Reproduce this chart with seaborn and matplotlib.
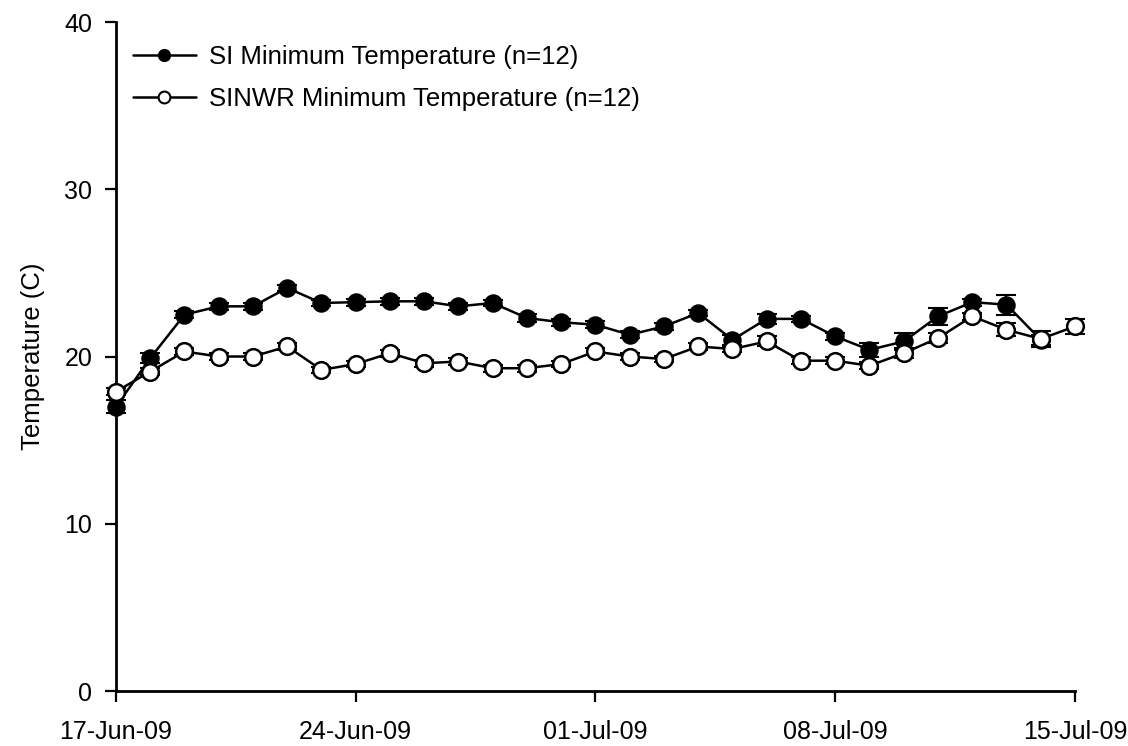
import matplotlib
matplotlib.use("Agg")
import matplotlib.pyplot as plt
import matplotlib.dates as mdates
import numpy as np
import pandas as pd
import seaborn as sns

# Daily minimum temperatures, 17-Jun-09 onwards
dates = pd.date_range("2009-06-17", periods=29, freq="D")

si_min = [17.0, 19.9, 22.5, 23.0, 23.0, 24.1, 23.2, 23.25, 23.3, 23.3,
          23.0, 23.2, 22.3, 22.05, 21.9, 21.3, 21.8, 22.6, 21.0, 22.25,
          22.25, 21.2, 20.4, 20.9, 22.4, 23.25, 23.1, 21.0]
si_err = [0.4, 0.3, 0.2, 0.2, 0.2, 0.2, 0.2, 0.2, 0.2, 0.2,
          0.2, 0.2, 0.25, 0.2, 0.2, 0.2, 0.2, 0.2, 0.3, 0.3,
          0.2, 0.2, 0.4, 0.5, 0.5, 0.2, 0.6, 0.3]

sinwr_min = [17.9, 19.1, 20.3, 20.0, 20.0, 20.6, 19.2, 19.55, 20.2, 19.6,
             19.7, 19.3, 19.3, 19.55, 20.3, 20.0, 19.85, 20.6, 20.45, 20.9,
             19.75, 19.75, 19.45, 20.2, 21.1, 22.4, 21.6, 21.05, 21.8]
sinwr_err = [0.2, 0.2, 0.2, 0.2, 0.2, 0.2, 0.2, 0.2, 0.2, 0.2,
             0.2, 0.2, 0.2, 0.2, 0.2, 0.2, 0.2, 0.2, 0.2, 0.3,
             0.2, 0.2, 0.2, 0.3, 0.3, 0.2, 0.4, 0.5, 0.45]

y_ticks = [0, 10, 20, 30, 40]
x_ticks = pd.to_datetime(["2009-06-17", "2009-06-24", "2009-07-01",
                          "2009-07-08", "2009-07-15"])

sns.set_style("ticks")
plt.rcParams["font.family"] = ["Liberation Sans", "DejaVu Sans"]
plt.rcParams["text.color"] = "black"
plt.rcParams["axes.labelcolor"] = "black"

fig = plt.figure(figsize=(11.28, 7.46), dpi=100)
ax = fig.add_axes([0.1028, 0.0737, 0.8502, 0.8968])

si_df = pd.DataFrame({"date": dates[:len(si_min)], "temp": si_min})
sinwr_df = pd.DataFrame({"date": dates[:len(sinwr_min)], "temp": sinwr_min})

# error bars first, then the lines with markers on top
ax.errorbar(si_df["date"], si_df["temp"], yerr=si_err, fmt="none",
            ecolor="black", elinewidth=1.5, capsize=7, capthick=1.5,
            clip_on=False, zorder=2)
sns.lineplot(data=si_df, x="date", y="temp", ax=ax, color="black",
             linewidth=1.8, marker="o", markersize=12,
             markerfacecolor="black", markeredgecolor="black",
             markeredgewidth=1.3, clip_on=False, zorder=3, legend=False)

ax.errorbar(sinwr_df["date"], sinwr_df["temp"], yerr=sinwr_err, fmt="none",
            ecolor="black", elinewidth=1.5, capsize=7, capthick=1.5,
            clip_on=False, zorder=4)
sns.lineplot(data=sinwr_df, x="date", y="temp", ax=ax, color="black",
             linewidth=1.8, marker="o", markersize=12,
             markerfacecolor="white", markeredgecolor="black",
             markeredgewidth=1.8, clip_on=False, zorder=5, legend=False)

ax.set_xlim(x_ticks[0], x_ticks[-1])
ax.set_ylim(0, 40)
ax.set_yticks(y_ticks)
ax.set_xticks(x_ticks)
ax.xaxis.set_major_formatter(mdates.DateFormatter("%d-%b-%y"))
ax.tick_params(axis="both", labelsize=18, length=8, width=1.6, direction="out",
               colors="black")
ax.tick_params(axis="x", pad=13)
ax.tick_params(axis="y", pad=9)
ax.set_xlabel("")
ax.set_ylabel("Temperature (C)", fontsize=18.5, labelpad=14, color="black")

for side in ("top", "right"):
    ax.spines[side].set_visible(False)
for side in ("left", "bottom"):
    ax.spines[side].set_linewidth(2.0)
    ax.spines[side].set_color("black")

# legend with smaller markers than the data points
handles = [
    plt.Line2D([], [], color="black", linewidth=1.8, marker="o", markersize=8.5,
               markerfacecolor="black", markeredgecolor="black"),
    plt.Line2D([], [], color="black", linewidth=1.8, marker="o", markersize=8.5,
               markerfacecolor="white", markeredgecolor="black",
               markeredgewidth=1.5),
]
labels = ["SI Minimum Temperature (n=12)", "SINWR Minimum Temperature (n=12)"]
leg = ax.legend(handles, labels, loc="upper left", bbox_to_anchor=(0.0177, 0.966),
                frameon=False, fontsize=18.5, handlelength=2.45, handletextpad=0.5,
                labelspacing=0.7, borderaxespad=0.0, borderpad=0.0)
for txt in leg.get_texts():
    txt.set_color("black")

fig.savefig("out.png", dpi=100)
